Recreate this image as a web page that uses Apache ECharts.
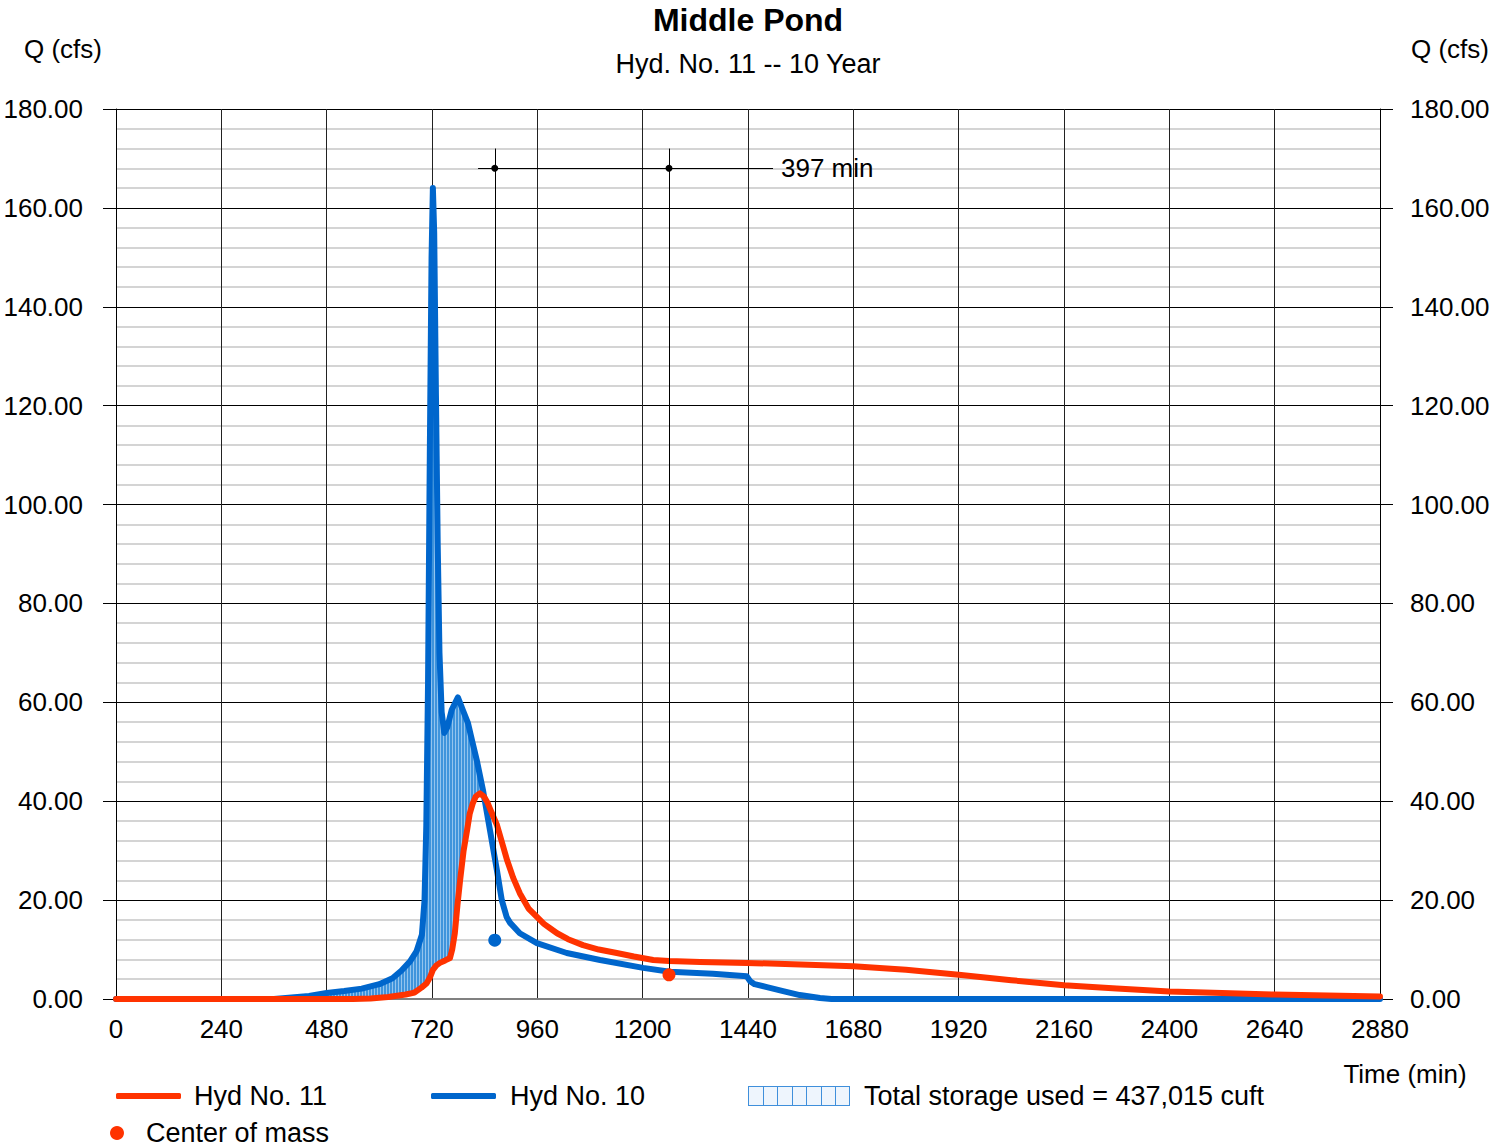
<!DOCTYPE html>
<html>
<head>
<meta charset="utf-8">
<script src="https://cdn.jsdelivr.net/npm/echarts@6/dist/echarts.min.js"></script>
<style>html,body{margin:0;padding:0;background:#fff}#c{width:1491px;height:1147px}</style>
</head>
<body>
<div id="c"></div>
<script>
// ---- Data ----
const hyd10Time = [0,360,400,440,480,520,560,600,630,650,670,685,697,703,707,711,715,719,722,725,729,733,737,742,748,755,765,779,790,802,812,822,836,852,868,879,890,898,920,959,1027,1103,1201,1262,1360,1437,1445,1455,1483,1520,1558,1604,1630,2880];
const hyd10Flow = [0,0,0.3,0.6,1.2,1.6,2.1,3.0,4.2,5.7,7.6,9.7,13,20,35,64,110,150,164,155,122,92,70,58,53.8,55,58.5,61,58.5,55.8,52,48.3,42.3,34.2,26,20,16.6,15.4,13.3,11.3,9.3,7.9,6.3,5.5,5.1,4.6,3.6,3.0,2.4,1.6,0.8,0.2,0,0];
const hyd11Time = [0,540,580,620,660,680,696,708,716,722,730,738,750,761,766,772,778,784,792,800,806,813,820,829,838,846,852,868,880,891,905,920,940,959,975,989,1005,1030,1064,1100,1141,1180,1224,1260,1331,1437,1560,1680,1800,1920,2040,2160,2280,2400,2520,2640,2760,2880];
const hyd11Flow = [0,0,0.1,0.4,0.9,1.3,2.3,3.2,4.5,5.9,6.8,7.3,7.8,8.3,10,13.3,19,24,30,34.2,37.5,39.6,41,41.6,41,39.8,38.5,35.2,31.5,28.1,24.5,21.4,18.3,16.6,15.2,14.3,13.3,12.1,10.9,10,9.3,8.6,7.9,7.7,7.5,7.3,7.0,6.6,5.9,4.9,3.8,2.8,2.1,1.5,1.2,0.9,0.7,0.5];
const centerInflow = [863, 11.9];
const centerOutflow = [1260, 4.9];
const lagLineY = 168;
const lagLineTop = 172;
const lagLineStart = 825;
const lagLineEnd = 1497;
const storageLabel = 'Total storage used = 437,015 cuft';
const titleText = 'Middle Pond';
const subtitleText = 'Hyd. No. 11 -- 10 Year';

const RED = '#ff3300', BLUE = '#0066cc', FONT = '"Liberation Sans", Arial, sans-serif', FS = 27, AFS = 26;

function pairs(ts, qs){ return ts.map((t,i)=>[t, qs[i]]); }
function interp(ts, qs, t){
  for (let i=1;i<ts.length;i++){
    if (t <= ts[i]) { const f=(t-ts[i-1])/(ts[i]-ts[i-1]); return qs[i-1]+f*(qs[i]-qs[i-1]); }
  }
  return qs[qs.length-1];
}
// crossing of inflow / outflow after inflow peak
let tCross = 840;
for (let t=760; t<1000; t+=0.25){
  if (interp(hyd10Time,hyd10Flow,t) <= interp(hyd11Time,hyd11Flow,t)) { tCross = t; break; }
}

// hatch pattern for storage fill
const pat = document.createElement('canvas'); pat.width = 3; pat.height = 4;
(function(){ const g = pat.getContext('2d'); g.fillStyle='#3f94dc'; g.fillRect(0,0,2,4); g.fillStyle='#93c4ee'; g.fillRect(2,0,1,4); })();
// legend icon for storage
const ico = document.createElement('canvas'); ico.width = 102; ico.height = 20;
(function(){ const g = ico.getContext('2d'); g.fillStyle='#eef5fd'; g.fillRect(0,0,102,20);
  g.strokeStyle='#3f8fdb'; g.lineWidth=1; g.strokeRect(0.5,0.5,101,19);
  for (let k=1;k<7;k++){ const x=Math.round(k*102/7)+0.5; g.beginPath(); g.moveTo(x,0); g.lineTo(x,20); g.stroke(); }
})();

const chart = echarts.init(document.getElementById('c'), null, {renderer:'svg'});
const axisLabelStyle = {fontSize:AFS, color:'#000', fontFamily:FONT};
const yBase = {type:'value', min:0, max:180, interval:20,
  axisLine:{show:true, lineStyle:{color:'#000', width:1}},
  axisTick:{show:true, inside:false, length:13, lineStyle:{color:'#000'}},
  axisLabel:Object.assign({formatter:v=>v.toFixed(2)}, axisLabelStyle)};

chart.setOption({
  animation:false,
  backgroundColor:'#fff',
  textStyle:{fontFamily:FONT},
  title:{text:titleText, subtext:subtitleText, left:748, top:4, textAlign:'center', padding:0, itemGap:15,
    textStyle:{fontSize:32, fontWeight:'bold', color:'#000', lineHeight:32, fontFamily:FONT},
    subtextStyle:{fontSize:FS, color:'#000', lineHeight:26, fontFamily:FONT}},
  grid:{left:116, right:111, top:109, bottom:148, containLabel:false, outerBoundsMode:'none'},
  xAxis:{type:'value', min:0, max:2880, interval:240,
    axisLine:{show:true, onZero:false, lineStyle:{color:'#808080', width:2}},
    axisTick:{show:false},
    axisLabel:Object.assign({margin:17, showMaxLabel:true, formatter:v=>String(v)}, axisLabelStyle),
    splitLine:{show:true, lineStyle:{color:'#222', width:1}}},
  yAxis:[
    Object.assign({}, yBase, {position:'left', axisLabel:Object.assign({}, yBase.axisLabel, {margin:33}),
      splitLine:{show:true, lineStyle:{color:'#000', width:1}},
      minorTick:{show:false, splitNumber:5},
      minorSplitLine:{show:true, lineStyle:{color:'#d4d4d4', width:2}}}),
    Object.assign({}, yBase, {position:'right', axisLabel:Object.assign({}, yBase.axisLabel, {margin:30}),
      splitLine:{show:false}})
  ],
  legend:[
    {data:[{name:'Hyd No. 11', icon:'roundRect'}], left:116, top:1082, padding:0, selectedMode:false, itemWidth:65, itemHeight:6,
      textStyle:{fontSize:FS, color:'#000', lineHeight:28, padding:[0,0,0,8]}},
    {data:[{name:'Hyd No. 10', icon:'roundRect'}], left:431, top:1082, padding:0, selectedMode:false, itemWidth:65, itemHeight:6,
      textStyle:{fontSize:FS, color:'#000', lineHeight:28, padding:[0,0,0,9]}},
    {data:[{name:storageLabel, icon:'image://' + ico.toDataURL()}], left:748, top:1082, padding:0, selectedMode:false, itemWidth:102, itemHeight:20,
      textStyle:{fontSize:FS, color:'#000', lineHeight:28, padding:[0,0,0,9]}},
    {data:[{name:'Center of mass', icon:'circle'}], left:110, top:1119, padding:0, selectedMode:false, itemWidth:14, itemHeight:14,
      textStyle:{fontSize:FS, color:'#000', lineHeight:28, padding:[0,0,0,17]}}
  ],
  graphic:[
    {type:'text', x:63, y:49, style:{text:'Q (cfs)', fill:'#000', font:AFS+'px '+FONT, textAlign:'center', textVerticalAlign:'middle'}},
    {type:'text', x:1450, y:49, style:{text:'Q (cfs)', fill:'#000', font:AFS+'px '+FONT, textAlign:'center', textVerticalAlign:'middle'}},
    {type:'text', x:1405, y:1074, style:{text:'Time (min)', fill:'#000', font:AFS+'px '+FONT, textAlign:'center', textVerticalAlign:'middle'}}
  ],
  series:[
    {name:storageLabel, type:'custom', xAxisIndex:0, yAxisIndex:0, z:1, silent:true,
      itemStyle:{color:BLUE},
      data:[[tCross, 0]],
      renderItem:function(params, api){
        const pts = [];
        for (let i=0;i<hyd10Time.length;i++) if (hyd10Time[i] < tCross) pts.push(api.coord([hyd10Time[i], hyd10Flow[i]]));
        pts.push(api.coord([tCross, interp(hyd10Time, hyd10Flow, tCross)]));
        for (let i=hyd11Time.length-1;i>=0;i--) if (hyd11Time[i] < tCross) pts.push(api.coord([hyd11Time[i], hyd11Flow[i]]));
        return {type:'polygon', shape:{points:pts}, style:{fill:{image:pat, repeat:'repeat'}, stroke:null}};
      }},
    {name:'Hyd No. 10', type:'line', data:pairs(hyd10Time, hyd10Flow), showSymbol:false, symbol:'none', z:3,
      lineStyle:{color:BLUE, width:6, join:'round', cap:'round'}, itemStyle:{color:BLUE}},
    {name:'Hyd No. 11', type:'line', data:pairs(hyd11Time, hyd11Flow), showSymbol:false, symbol:'none', z:4,
      lineStyle:{color:RED, width:6, join:'round', cap:'round'}, itemStyle:{color:RED}},
    {name:'Center of mass', type:'scatter', symbol:'circle', symbolSize:13, z:5, itemStyle:{color:RED, opacity:1},
      data:[{value:centerInflow, itemStyle:{color:BLUE, opacity:1}}, {value:centerOutflow}],
      markLine:{silent:true, symbol:['none','none'], animation:false,
        lineStyle:{color:'#000', width:1, type:'solid'},
        label:{show:false},
        data:[
          [{coord:[centerInflow[0], centerInflow[1]]}, {coord:[centerInflow[0], lagLineTop]}],
          [{coord:[centerOutflow[0], centerOutflow[1]]}, {coord:[centerOutflow[0], lagLineTop]}],
          [{coord:[lagLineStart, lagLineY], label:{show:true, position:'end', distance:8,
              formatter:(centerOutflow[0]-centerInflow[0]) + ' min', fontSize:AFS, color:'#000', fontFamily:FONT}},
           {coord:[lagLineEnd, lagLineY]}]
        ]}},
    {name:'lag markers', type:'scatter', symbol:'circle', symbolSize:7, z:6, itemStyle:{color:'#000', opacity:1},
      data:[[centerInflow[0], lagLineY], [centerOutflow[0], lagLineY]]}
  ]
});
</script>
</body>
</html>
